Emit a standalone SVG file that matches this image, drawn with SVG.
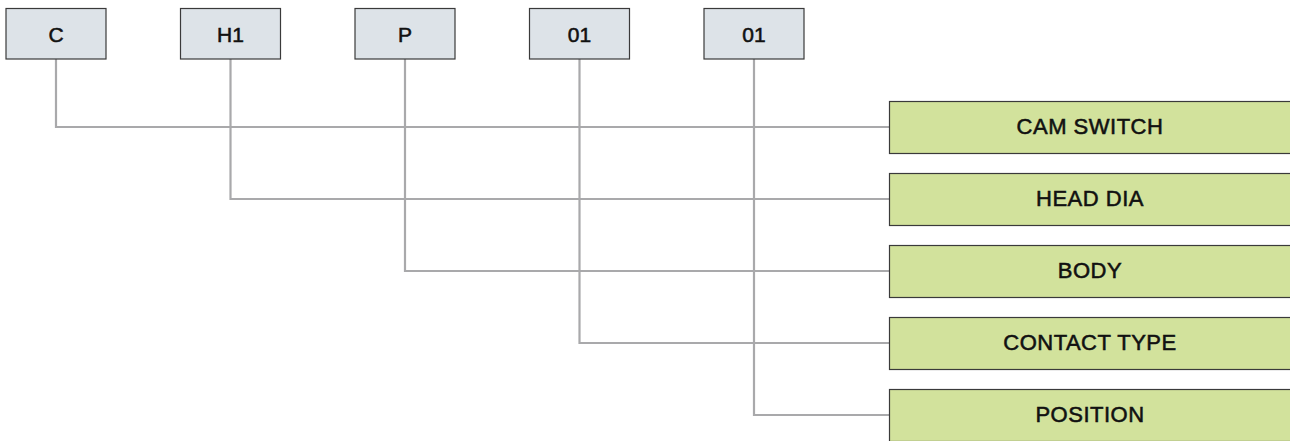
<svg xmlns="http://www.w3.org/2000/svg" width="1290" height="441" viewBox="0 0 1290 441">
<style>
.code{fill:#dde3e8;stroke:#3a3a3a;stroke-width:1.2}
.cat{fill:#d2e29c;stroke:#3a3a3a;stroke-width:1.2}
.lbl{font-family:"Liberation Sans",Arial,sans-serif;font-size:21px;fill:#111;stroke:#111;stroke-width:0.55px;text-anchor:middle}
.cl{font-family:"Liberation Sans",Arial,sans-serif;font-size:22px;letter-spacing:0.5px;fill:#111;stroke:#111;stroke-width:0.55px;text-anchor:middle}
.ln{fill:none;stroke:#a9a9ab;stroke-width:2.2}
</style>
<rect width="1290" height="441" fill="#ffffff"/>
<g id="connectors">
<polyline class="ln" points="56,59 56,127 889,127"/>
<polyline class="ln" points="230.5,59 230.5,199 889,199"/>
<polyline class="ln" points="405,59 405,271 889,271"/>
<polyline class="ln" points="579.5,59 579.5,343 889,343"/>
<polyline class="ln" points="754,59 754,415 889,415"/>
</g>
<g id="code-c"><rect class="code" x="6" y="8.5" width="100" height="50.5"/><text class="lbl" x="56" y="41.5">C</text></g>
<g id="code-h1"><rect class="code" x="180.5" y="8.5" width="100" height="50.5"/><text class="lbl" x="230.5" y="41.5">H1</text></g>
<g id="code-p"><rect class="code" x="355" y="8.5" width="100" height="50.5"/><text class="lbl" x="405" y="41.5">P</text></g>
<g id="code-01a"><rect class="code" x="529.5" y="8.5" width="100" height="50.5"/><text class="lbl" x="579.5" y="41.5">01</text></g>
<g id="code-01b"><rect class="code" x="704" y="8.5" width="100" height="50.5"/><text class="lbl" x="754" y="41.5">01</text></g>
<g id="cam-switch"><rect class="cat" x="889.5" y="101.5" width="402" height="52"/><text class="cl" x="1090" y="134">CAM SWITCH</text></g>
<g id="head-dia"><rect class="cat" x="889.5" y="173.5" width="402" height="52"/><text class="cl" x="1090" y="206">HEAD DIA</text></g>
<g id="body"><rect class="cat" x="889.5" y="245.5" width="402" height="52"/><text class="cl" x="1090" y="278">BODY</text></g>
<g id="contact-type"><rect class="cat" x="889.5" y="317.5" width="402" height="52"/><text class="cl" x="1090" y="350">CONTACT TYPE</text></g>
<g id="position"><rect class="cat" x="889.5" y="389.5" width="402" height="52"/><text class="cl" x="1090" y="422">POSITION</text></g>
</svg>
